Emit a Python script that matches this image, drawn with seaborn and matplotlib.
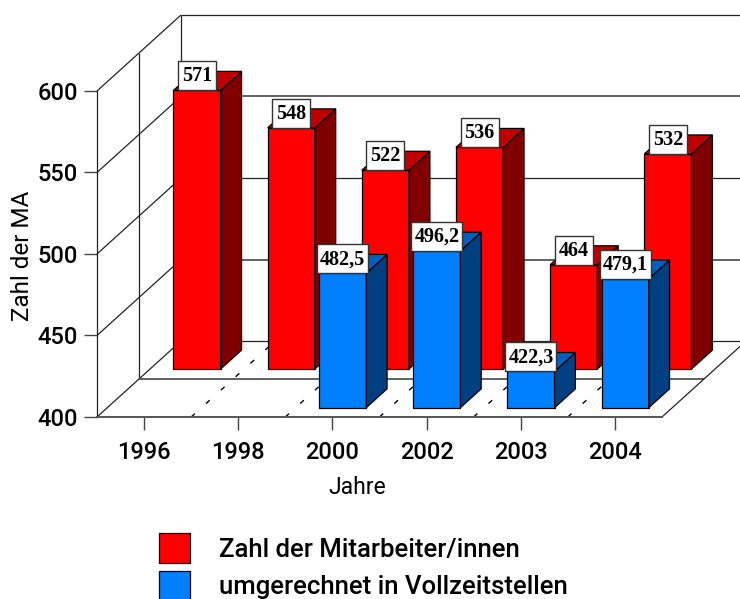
import numpy as np
import pandas as pd
import matplotlib
matplotlib.use("Agg")
import matplotlib.pyplot as plt
import seaborn as sns
from matplotlib.patches import Polygon, Rectangle
from matplotlib.transforms import Affine2D, IdentityTransform

# ==============================
# Data
# ==============================
jahre = ["1996", "1998", "2000", "2002", "2003", "2004"]
mitarbeiter = [571, 548, 522, 536, 464, 532]
vollzeit = [np.nan, np.nan, 482.5, 496.2, 422.3, 479.1]
y_ticks = [400, 450, 500, 550, 600]

label_ma = "Zahl der Mitarbeiter/innen"
label_vz = "umgerechnet in Vollzeitstellen"

df = pd.DataFrame({"jahr": jahre, "ma": mitarbeiter, "vz": vollzeit})

# ==============================
# Style
# ==============================
sns.set_style("white")
plt.rcParams["font.family"] = ["Roboto", "DejaVu Sans"]
plt.rcParams["font.weight"] = "medium"

BASE = 400
DEPTH_X, DEPTH_Y = 84, 76  # full floor depth in pixels
W, H = 740, 599

fig = plt.figure(figsize=(W / 100, H / 100), dpi=100)
ax = fig.add_axes([97 / W, 1 - 417 / H, 565 / W, 326 / H])


def px(x, y, d=0.0):
    X, Y = ax.transData.transform((x, y))
    return X + DEPTH_X * d, Y + DEPTH_Y * d


def draw_line(p0, p1, color="#222222", lw=0.9, z=1, **kw):
    ax.plot([p0[0], p1[0]], [p0[1], p1[1]], color=color, lw=lw, zorder=z,
            transform=IdentityTransform(), clip_on=False, solid_capstyle="butt", **kw)


def draw_bars(column, label, face, d_front, z):
    sns.barplot(data=df, x="jahr", y=column, order=jahre, color=face, saturation=1,
                width=0.5, errorbar=None, edgecolor="black", linewidth=0.9,
                clip_on=False, zorder=z, label=label, ax=ax)
    bars = ax.containers[-1]
    shift = Affine2D().translate(DEPTH_X * d_front, DEPTH_Y * d_front)
    for bar in bars:
        value = bar.get_height()
        bar.set_y(BASE)
        bar.set_height(value - BASE)
        bar.set_transform(ax.transData + shift)
    return bars


def draw_depth(bars, top, side, d_front, d_back, z):
    for bar in bars:
        x0, x1 = bar.get_x(), bar.get_x() + bar.get_width()
        y1 = bar.get_y() + bar.get_height()
        side_pts = [px(x1, BASE, d_front), px(x1, y1, d_front), px(x1, y1, d_back), px(x1, BASE, d_back)]
        top_pts = [px(x0, y1, d_front), px(x1, y1, d_front), px(x1, y1, d_back), px(x0, y1, d_back)]
        for pts, col in ((side_pts, side), (top_pts, top)):
            ax.add_patch(Polygon(pts, closed=True, facecolor=col, edgecolor="black", lw=0.9,
                                 transform=IdentityTransform(), clip_on=False, zorder=z))


def draw_labels(bars, texts, d_front, z):
    for bar, txt in zip(bars, texts):
        xc = bar.get_x() + bar.get_width() / 2
        X, Y = px(xc, bar.get_y() + bar.get_height(), d_front)
        box_w = 38 if len(txt) == 3 else 51
        ax.add_patch(Rectangle((X - box_w / 2, Y), box_w, 29, facecolor="white", edgecolor="#333333",
                               lw=1.0, transform=IdentityTransform(), clip_on=False, zorder=z))
        ax.text(X, Y + 14, txt, ha="center", va="center", fontsize=14.5, fontweight="bold",
                family=["Liberation Serif"], color="black", transform=IdentityTransform(), zorder=z + 0.1)


# ==============================
# Bars
# ==============================
red = draw_bars("ma", label_ma, "#ff0000", 0.63, 3)
ax.set_ylim(BASE, 600)
blue = draw_bars("vz", label_vz, "#0080ff", 0.122, 6)
ax.set_xlim(-0.5, 5.5)
ax.set_ylim(BASE, 600)

draw_depth(red, "#c00000", "#800000", 0.63, 0.88, 3)
draw_depth(blue, "#0060c0", "#004080", 0.122, 0.37, 6)
draw_labels(red, [str(v) for v in mitarbeiter], 0.63, 5)
draw_labels(blue, [str(v).replace(".", ",") for v in vollzeit if not np.isnan(v)], 0.122, 8)

# ==============================
# Walls and floor
# ==============================
x_left, x_right = ax.get_xlim()
for t in y_ticks:
    draw_line(px(x_left, t), px(x_left, t, 1))
    grey = t in (450, 550)
    draw_line(px(x_left, t, 1), px(x_right, t, 1), color="#555555" if grey else "#222222", lw=1.3 if grey else 0.9)
draw_line(px(x_left, BASE, 1), px(x_left, 600, 1))
draw_line(px(x_left, BASE, 0.5), px(x_left, 600, 0.5))
draw_line(px(x_left, BASE, 0.5), px(x_right, BASE, 0.5), color="#555555", lw=1.3)
draw_line(px(x_right, BASE), px(x_right, BASE, 1))

# dashed floor lines between the years
for pos in np.arange(len(jahre) - 1) + 0.5:
    draw_line(px(pos, BASE), px(pos, BASE, 1), color="black", lw=1.0, ls=(0, (3.6, 10.8)))

# ==============================
# Axes, labels, legend
# ==============================
ax.set_yticks(y_ticks)
ax.spines["top"].set_visible(False)
ax.spines["right"].set_visible(False)
ax.spines["left"].set_color("#222222")
ax.spines["left"].set_linewidth(0.9)
ax.spines["bottom"].set_color("#555555")
ax.spines["bottom"].set_linewidth(1.4)
ax.tick_params(axis="both", length=9.4, width=1.0, color="#444444", labelsize=17, labelcolor="black", left=True, bottom=True)
ax.tick_params(axis="x", pad=8)
ax.tick_params(axis="y", pad=4.5)

ax.set_ylabel("Zahl der MA", fontsize=17.5, color="black")
ax.yaxis.set_label_coords((34 - 97) / 565, (417 - 256) / 326)
ax.set_xlabel("Jahre", fontsize=16.5, color="black")
ax.xaxis.set_label_coords((357 - 97) / 565, -(476 - 417) / 326)

leg = ax.legend(handles=[red, blue], labels=[label_ma, label_vz], loc="upper left",
                bbox_to_anchor=(159 / W, 1 - 533 / H), bbox_transform=fig.transFigure,
                frameon=False, fontsize=18.5, handlelength=1.2, handleheight=1.42,
                handletextpad=1.13, labelspacing=0.3, borderpad=0, borderaxespad=0,
                labelcolor="black")

plt.savefig("out.png", dpi=100)
